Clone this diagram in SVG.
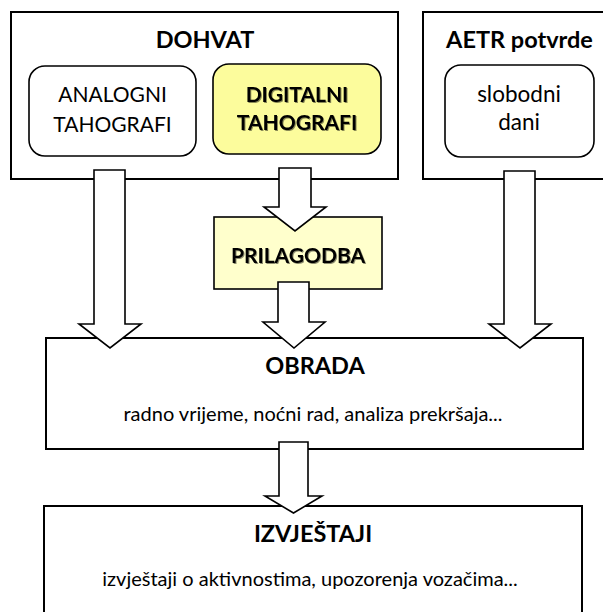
<svg xmlns="http://www.w3.org/2000/svg" width="603" height="612" viewBox="0 0 603 612">
<defs>
<style>
.box{fill:#fff;stroke:#000;stroke-width:2}
.rbox{fill:#fff;stroke:#000;stroke-width:1.6}
.ybox{fill:#fcfc9c;stroke:#000;stroke-width:1.6}
.pbox{fill:#ffffcc;stroke:#000;stroke-width:1.6}
.arr{fill:#fff;stroke:#000;stroke-width:1.6;stroke-linejoin:miter}
text{font-family:Lato,"Liberation Sans",sans-serif;fill:#000;text-anchor:middle}
.t{font-weight:bold;font-size:23.5px}
.l{font-size:21px}
.lw{font-size:22.5px}
.lb{font-size:21px;font-weight:bold}
.s{font-size:20px}
.sh{filter:url(#shadow)}
</style>
<filter id="shadow" x="-10%" y="-20%" width="130%" height="150%">
<feDropShadow dx="1" dy="1" stdDeviation="0.6" flood-color="#000" flood-opacity="0.45"/>
</filter>
</defs>
<g id="dohvat">
<rect class="box" x="11" y="12" width="387" height="167"/>
<text class="t" x="205" y="48">DOHVAT</text>
</g>
<g id="analogni">
<rect class="rbox" x="29" y="66" width="167" height="90" rx="16"/>
<text class="l" x="112.5" y="102">ANALOGNI</text>
<text class="l" x="112.5" y="132">TAHOGRAFI</text>
</g>
<g id="digitalni">
<rect class="ybox" x="213" y="64" width="168" height="90" rx="16"/>
<text class="lb sh" x="297" y="102">DIGITALNI</text>
<text class="lb sh" x="297" y="130">TAHOGRAFI</text>
</g>
<g id="aetr">
<rect class="box" x="423" y="12" width="190" height="167"/>
<text class="t" x="519.5" y="48">AETR potvrde</text>
</g>
<g id="slobodni">
<rect class="rbox" x="445" y="65" width="149" height="92" rx="16"/>
<text class="lw" x="519" y="102">slobodni</text>
<text class="lw" x="519" y="130">dani</text>
</g>
<g id="prilagodba">
<rect class="pbox" x="214" y="217" width="168" height="72"/>
<text class="lb sh" x="298" y="263">PRILAGODBA</text>
</g>
<g id="obrada">
<rect class="box" x="46" y="338" width="537" height="111"/>
<text class="t" x="315" y="374">OBRADA</text>
<text class="s" x="313" y="421">radno vrijeme, noćni rad, analiza prekršaja...</text>
</g>
<g id="izvjestaji">
<rect class="box" x="44" y="506" width="538" height="120"/>
<text class="t" x="313" y="542">IZVJEŠTAJI</text>
<text class="s" x="310" y="586">izvještaji o aktivnostima, upozorenja vozačima...</text>
</g>
<g id="connectors">
<path class="arr" d="M94,170 H125 V324 H141 L110,348 L79,324 H94 Z"/>
<path class="arr" d="M279,168 H311 V207 H326 L295,231 L264,207 H279 Z"/>
<path class="arr" d="M278,282 H309 V322 H325 L294,348 L263,322 H278 Z"/>
<path class="arr" d="M504,171 H535 V324 H551 L520,348 L489,324 H504 Z"/>
<path class="arr" d="M279,442 H308 V496 H322 L293.5,513 L265,496 H279 Z"/>
</g>
</svg>
